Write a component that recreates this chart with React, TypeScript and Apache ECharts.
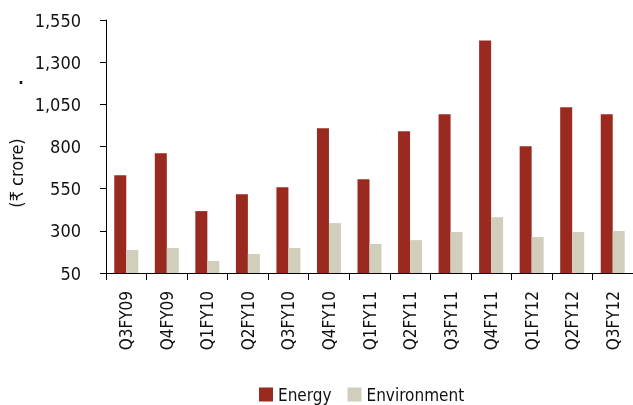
import React, { useEffect, useRef } from "react";
import * as echarts from "echarts";

// Quarterly figures, ₹ crore
const quarters = [
  "Q3FY09", "Q4FY09", "Q1FY10", "Q2FY10", "Q3FY10", "Q4FY10", "Q1FY11",
  "Q2FY11", "Q3FY11", "Q4FY11", "Q1FY12", "Q2FY12", "Q3FY12",
];
const energy = [630, 760, 417, 517, 559, 908, 606, 890, 991, 1429, 801, 1032, 991];
const environment = [186, 198, 121, 162, 198, 346, 222, 245, 293, 381, 263, 293, 299];

const yMin = 50;
const yMax = 1550;
const yStep = 250;

const FONT = "'Liberation Sans Narrow', 'DejaVu Sans Condensed', 'Roboto', sans-serif";

export default function App() {
  const ref = useRef<HTMLDivElement>(null);

  useEffect(() => {
    if (!ref.current) return;
    const chart = echarts.init(ref.current, undefined, { renderer: "svg" });
    chart.setOption({
      animation: false,
      textStyle: { fontFamily: FONT },
      grid: { left: 106, right: -2, top: 20, bottom: 132 },
      legend: {
        top: 386,
        left: 259,
        padding: 0,
        itemWidth: 14,
        itemHeight: 14,
        itemGap: 16,
        icon: "rect",
        textStyle: { fontFamily: FONT, fontSize: 17, color: "#111" },
        data: ["Energy", "Environment"],
      },
      xAxis: {
        type: "category",
        data: quarters,
        axisLine: { lineStyle: { color: "#000", width: 1 } },
        axisTick: { show: true, length: 7, lineStyle: { color: "#000" } },
        axisLabel: {
          rotate: 90,
          interval: 0,
          margin: 18,
          fontFamily: FONT,
          fontSize: 17,
          color: "#111",
        },
      },
      yAxis: {
        type: "value",
        min: yMin,
        max: yMax,
        interval: yStep,
        axisLine: { show: true, lineStyle: { color: "#000", width: 1 } },
        axisTick: { show: true, length: 6, lineStyle: { color: "#000" } },
        splitLine: { show: false },
        axisLabel: {
          margin: 25,
          fontFamily: FONT,
          fontSize: 18,
          color: "#111",
          formatter: (v: number) => v.toLocaleString("en-US"),
        },
      },
      graphic: [
        {
          type: "text",
          x: 16,
          y: 173,
          rotation: Math.PI / 2,
          style: {
            text: "(₹ crore)",
            font: `18px ${FONT}`,
            fill: "#111",
            align: "center",
            verticalAlign: "middle",
          },
        },
        {
          type: "text",
          x: 21,
          y: 86,
          style: {
            text: ".",
            font: `bold 16px ${FONT}`,
            fill: "#111",
            align: "center",
            verticalAlign: "bottom",
          },
        },
      ],
      series: [
        {
          name: "Energy",
          type: "bar",
          data: energy,
          barWidth: 12,
          barGap: "0%",
          itemStyle: { color: "#9A2A20" },
        },
        {
          name: "Environment",
          type: "bar",
          data: environment,
          barWidth: 12,
          barGap: "0%",
          itemStyle: { color: "#D1CFBC" },
        },
      ],
    });
    return () => chart.dispose();
  }, []);

  return (
    <div
      ref={ref}
      style={{ position: "fixed", left: 0, top: 0, width: 633, height: 405 }}
    />
  );
}
